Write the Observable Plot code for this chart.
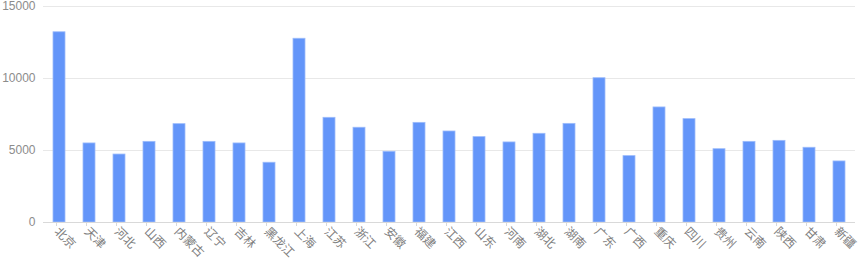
<!DOCTYPE html>
<html>
<head>
<meta charset="utf-8">
<script src="https://cdn.jsdelivr.net/npm/d3@7"></script>
<script src="https://cdn.jsdelivr.net/npm/@observablehq/plot@0.6"></script>
<style>
  html, body { margin: 0; padding: 0; background: #fff; }
  #chart svg { display: block; }
</style>
</head>
<body>
<div id="chart"></div>
<script>
const provinces = ["北京","天津","河北","山西","内蒙古","辽宁","吉林","黑龙江","上海","江苏","浙江","安徽","福建","江西","山东","河南","湖北","湖南","广东","广西","重庆","四川","贵州","云南","陕西","甘肃","新疆"];
const values = [13210,5490,4720,5600,6830,5600,5490,4150,12760,7270,6580,4910,6920,6320,5930,5560,6160,6850,10020,4610,7990,7180,5090,5600,5670,5190,4240];
const yTicks = [0, 5000, 10000, 15000];

const data = provinces.map((p, i) => ({province: p, value: values[i]}));

const chart = Plot.plot({
  width: 860,
  height: 260,
  marginLeft: 43,
  marginRight: 5,
  marginTop: 6,
  marginBottom: 38,
  style: {fontFamily: "'Liberation Sans', 'Noto Sans CJK SC', sans-serif", fontSize: "12px", background: "#fff", overflow: "visible"},
  x: {domain: provinces, paddingInner: 0.6, paddingOuter: 0.3, label: null},
  y: {domain: [0, 15000], label: null},
  marks: [
    Plot.gridY(yTicks, {stroke: "#e8e8e8", strokeOpacity: 1, strokeWidth: 1}),
    Plot.barY(data, {x: "province", y: "value", fill: "#6395f9", stroke: "#9dbcfb", strokeWidth: 0.8}),
    Plot.ruleY([0], {stroke: "#d9d9d9", strokeWidth: 1}),
    Plot.axisY(yTicks, {tickSize: 0, tickPadding: 8, fill: "#8c8c8c", fontSize: 12, tickFormat: d => String(d), label: null}),
    Plot.axisX({tickSize: 4, stroke: "#d9d9d9", tickRotate: 45, tickPadding: 3, fill: "#808080", fontSize: 12, dx: -3, label: null})
  ]
});
document.getElementById("chart").appendChild(chart);
</script>
</body>
</html>
